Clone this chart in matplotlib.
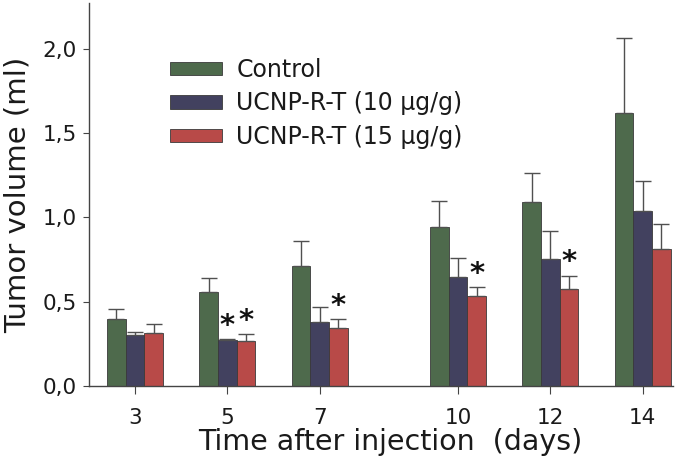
import matplotlib
matplotlib.use("Agg")
import matplotlib.pyplot as plt
import numpy as np

days = [3, 5, 7, 10, 12, 14]
series = ["Control", "UCNP-R-T (10 μg/g)", "UCNP-R-T (15 μg/g)"]
colors = ["#4e6a4c", "#42415f", "#b84a48"]

control = [0.395, 0.555, 0.712, 0.943, 1.089, 1.616]
control_err = [0.061, 0.086, 0.145, 0.156, 0.174, 0.449]
ucnp10 = [0.304, 0.272, 0.379, 0.649, 0.752, 1.036]
ucnp10_err = [0.016, 0.006, 0.087, 0.109, 0.164, 0.180]
ucnp15 = [0.314, 0.266, 0.342, 0.535, 0.574, 0.813]
ucnp15_err = [0.051, 0.042, 0.053, 0.053, 0.081, 0.150]

# significance marks (series index, day index)
stars = [(1, 1), (2, 1), (2, 2), (2, 3), (2, 4)]

values = [control, ucnp10, ucnp15]
errors = [control_err, ucnp10_err, ucnp15_err]

fig = plt.figure(figsize=(6.77, 4.63), dpi=100)
ax = fig.add_axes([0.1315, 0.1663, 0.862, 0.827])

width = 0.405
x = np.array(days, dtype=float)
for i, (vals, errs, col, name) in enumerate(zip(values, errors, colors, series)):
    pos = x + (i - 1) * width
    ax.bar(pos, vals, width=width, color=col, edgecolor="#3a3a3a", linewidth=0.6, label=name)
    ax.errorbar(pos, vals, yerr=[np.zeros(len(errs)), errs], fmt="none",
                ecolor="#505050", elinewidth=1.0, capsize=5.5, capthick=1.0)

for si, di in stars:
    pos = days[di] + (si - 1) * width
    top = values[si][di] + errors[si][di]
    ax.text(pos, top - 0.005, "*", ha="center", va="bottom", fontsize=21,
            fontweight="bold", color="#111111")

ax.set_xlim(2.0, 14.65)
ax.set_ylim(0, 2.27)
ax.set_xticks(days)
ax.set_xticklabels([str(d) for d in days])
ax.set_yticks([0, 0.5, 1.0, 1.5, 2.0])
ax.set_yticklabels(["0,0", "0,5", "1,0", "1,5", "2,0"])
ax.tick_params(axis="both", labelsize=15.5, direction="out", length=5, color="#444444",
               labelcolor="#1a1a1a")
ax.tick_params(axis="x", pad=10, length=6)
ax.tick_params(axis="y", pad=5, length=4)

for s in ["top", "right"]:
    ax.spines[s].set_visible(False)
for s in ["left", "bottom"]:
    ax.spines[s].set_color("#444444")
    ax.spines[s].set_linewidth(1.0)

ax.set_xlabel("Time after injection  (days)", fontsize=20.5, color="#1a1a1a")
ax.xaxis.label.set_va("baseline")
ax.xaxis.set_label_coords(0.517, -0.167)
ax.set_ylabel("Tumor volume (ml)", fontsize=21, labelpad=8, color="#1a1a1a")

ax.legend(loc="upper left", bbox_to_anchor=(0.103, 0.912), frameon=False, fontsize=17,
          handlelength=2.2, handleheight=0.5, handletextpad=0.6, labelspacing=0.4,
          labelcolor="#1a1a1a")

fig.savefig("out.png", dpi=100)
